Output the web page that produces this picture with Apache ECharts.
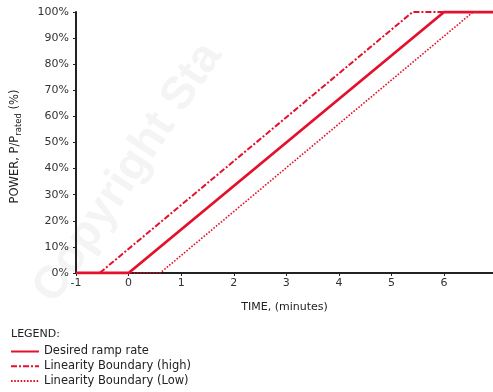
<!DOCTYPE html>
<html><head><meta charset="utf-8">
<script src="https://cdn.jsdelivr.net/npm/echarts@6/dist/echarts.min.js"></script>
<style>html,body{margin:0;padding:0;background:#fff}#c{width:493px;height:392px}</style>
</head><body><div id="c"></div>
<script>
const xTicks = [-1, 0, 1, 2, 3, 4, 5, 6];
const desired = [[-1, 0], [0, 0], [6, 100], [7, 100]];
const high = [[-1, 0], [-0.55, 0], [5.4, 100], [7, 100]];
const low = [[-1, 0], [0.6, 0], [6.55, 100], [7, 100]];
const seriesNames = ['Desired ramp rate', 'Linearity Boundary (high)', 'Linearity Boundary (Low)'];
const red = '#e3112b';
const FONT = 'DejaVu Sans';
const chart = echarts.init(document.getElementById('c'));
chart.setOption({
  animation: false,
  grid: { left: 76, top: 12, right: 0, bottom: 119 },
  graphic: [
    { type: 'text', left: 11, top: 329, style: { text: 'LEGEND:', font: '11px "DejaVu Sans"', fill: '#222' } },
    { type: 'text', x: 25, y: 285, rotation: 0.98, z: -1, style: { text: 'Copyright Sta', font: 'bold 46px "Liberation Sans", Arial', fill: '#f4f4f4' } }
  ],
  legend: {
    orient: 'vertical', left: 10, top: 345, itemWidth: 28, itemHeight: 8, itemGap: 1.7, padding: 0,
    itemStyle: { opacity: 0 },
    textStyle: { fontSize: 11.5, lineHeight: 13, color: '#222', fontFamily: FONT },
    data: seriesNames
  },
  xAxis: {
    type: 'value', min: -1, max: 6.93, interval: 1,
    name: 'TIME, (minutes)', nameLocation: 'middle', nameGap: 29,
    nameTextStyle: { fontSize: 11, color: '#222', fontFamily: FONT },
    axisLine: { onZero: false, lineStyle: { color: '#222', width: 2 } },
    axisTick: { length: 3, lineStyle: { color: '#222' } },
    axisLabel: { fontSize: 11, color: '#333', margin: 5, fontFamily: FONT,
      showMaxLabel: false, formatter: v => xTicks.includes(v) ? String(v) : '' },
    splitLine: { show: false }
  },
  yAxis: {
    type: 'value', min: 0, max: 100, interval: 10,
    name: 'POWER, P/P{s|rated} (%)', nameLocation: 'middle', nameGap: 53,
    nameTextStyle: { fontSize: 11.5, color: '#222', fontFamily: FONT, padding: [0, 8, 0, 0],
      rich: { s: { fontSize: 8.5, verticalAlign: 'bottom', padding: [6, 0, 0, 0], color: '#222', fontFamily: FONT } } },
    axisLine: { show: true, onZero: false, lineStyle: { color: '#222', width: 2 } },
    axisTick: { show: true, length: 3, lineStyle: { color: '#222' } },
    axisLabel: { fontSize: 11, color: '#333', margin: 7, fontFamily: FONT, formatter: '{value}%' },
    splitLine: { show: false }
  },
  series: [
    { name: seriesNames[0], type: 'line', data: desired, symbol: 'none', z: 3,
      lineStyle: { color: red, width: 2.8, type: 'solid' }, itemStyle: { color: red } },
    { name: seriesNames[1], type: 'line', data: high, symbol: 'none', z: 2,
      lineStyle: { color: red, width: 2, type: [6, 2, 2, 2] }, itemStyle: { color: red } },
    { name: seriesNames[2], type: 'line', data: low, symbol: 'none', z: 2,
      lineStyle: { color: red, width: 1.6, type: [1.6, 1.6] }, itemStyle: { color: red } }
  ]
});
</script></body></html>
